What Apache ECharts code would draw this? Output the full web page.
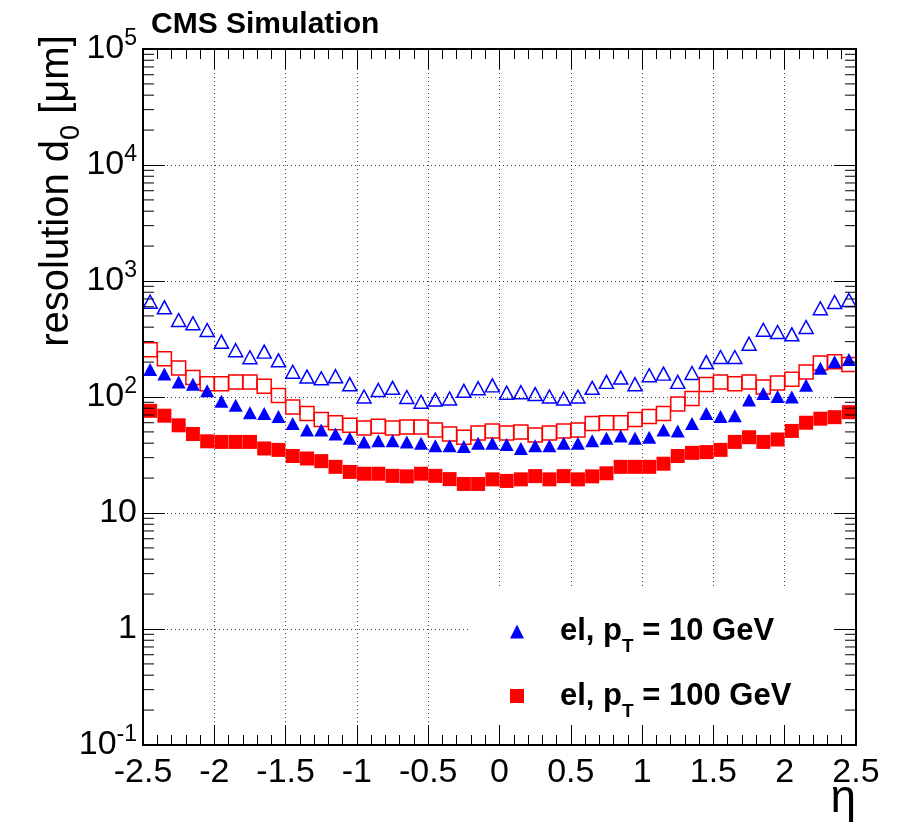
<!DOCTYPE html>
<html>
<head>
<meta charset="utf-8">
<script src="https://cdn.jsdelivr.net/npm/echarts@6/dist/echarts.min.js"></script>
<style>
html, body { margin: 0; padding: 0; background: #fff; }
#chart { width: 910px; height: 829px; }
</style>
</head>
<body>
<div id="chart"></div>
<script>
// bin centres in eta
const etaBins = [-2.45, -2.35, -2.25, -2.15, -2.05, -1.95, -1.85, -1.75, -1.65, -1.55,
                 -1.45, -1.35, -1.25, -1.15, -1.05, -0.95, -0.85, -0.75, -0.65, -0.55,
                 -0.45, -0.35, -0.25, -0.15, -0.05, 0.05, 0.15, 0.25, 0.35, 0.45,
                 0.55, 0.65, 0.75, 0.85, 0.95, 1.05, 1.15, 1.25, 1.35, 1.45,
                 1.55, 1.65, 1.75, 1.85, 1.95, 2.05, 2.15, 2.25, 2.35, 2.45];

// open blue triangles
const el10Open = [663, 593, 461, 432, 378, 300, 253, 220, 246, 207,
                  165, 150, 145, 151, 129, 101, 115, 120, 100, 91,
                  95, 97, 113, 119, 126, 109, 110, 106, 101, 97,
                  101, 120, 135, 147, 129, 154, 159, 135, 161, 200,
                  221, 221, 288, 380, 363, 347, 401, 582, 659, 686];
// open red squares
const el100Open = [256, 214, 178, 147, 130, 130, 135, 135, 124, 103,
                   82, 72, 64, 60, 57, 54, 56, 54, 55, 55,
                   52, 48, 45, 49, 51, 49, 50, 47, 49, 51,
                   52, 59, 60, 60, 64, 68, 72, 87, 97, 128,
                   135, 130, 135, 122, 132, 142, 164, 196, 201, 191];
// filled blue triangles
const el10 = [173, 158, 135, 129, 113, 92, 85, 73, 72, 68,
              59, 52, 52, 48, 44, 41, 42, 42, 41, 40,
              38, 38, 37.5, 40, 40, 39, 36, 38, 38, 40,
              40, 42, 44, 46, 44, 45, 52, 51, 59, 72,
              68, 69, 94, 107, 101, 100, 126, 177, 201, 211];
// filled red squares
const el100 = [76, 69, 57, 48, 41.5, 41, 41, 41, 36, 35,
               31, 29.5, 28, 25, 22.6, 21.8, 21.8, 20.9, 20.7, 21.8,
               20.9, 19.6, 17.8, 17.8, 19.5, 18.9, 19.5, 20.8, 19.5, 20.8,
               19.5, 20.7, 22, 25, 25, 25, 26.6, 31, 33, 33.5,
               35, 41, 45, 41, 43, 51, 60, 65, 67, 74];

const xMin = -2.5, xMax = 2.5, xStep = 0.5;
const yDecades = [0.1, 1, 10, 100, 1000, 10000, 100000];
const yMinorSteps = [2, 3, 4, 5, 6, 7, 8, 9];

const legendNames = ['el, p_T = 10 GeV', 'el, p_T = 100 GeV'];
const font = 'Liberation Sans';

function pairs(ys) {
  return etaBins.map((x, i) => [x, ys[i]]);
}

const yMinorTicks = [];
yDecades.slice(0, -1).forEach(d => yMinorSteps.forEach(m => yMinorTicks.push([xMin, d * m])));

function yLabel(v) {
  const e = Math.round(Math.log10(v));
  if (e === 0) return '1';
  if (e === 1) return '10';
  return '10{sup|' + e + '}';
}

const chart = echarts.init(document.getElementById('chart'));

const frameLine = { show: true, onZero: false, lineStyle: { color: '#000', width: 2 } };
const gridDots = { show: true, lineStyle: { color: '#000', width: 1, type: [1, 3], opacity: 0.75 } };
const tickStyle = { color: '#000', width: 1 };

const option = {
  animation: false,
  backgroundColor: '#fff',
  title: {
    text: 'CMS Simulation',
    left: 146,
    top: 5,
    textStyle: { fontFamily: font, fontSize: 30, fontWeight: 'bold', color: '#000' }
  },
  grid: { left: 143, right: 54, top: 49, bottom: 84, containLabel: false, outerBoundsMode: 'none' },
  legend: {
    data: legendNames,
    orient: 'vertical',
    left: 470,
    top: 588,
    padding: [28, 60, 14, 40],
    itemGap: 24,
    itemWidth: 14,
    itemHeight: 14,
    backgroundColor: '#fff',
    z: 5,
    selectedMode: false,
    formatter: name => '{gap|}' + name.replace('p_T', 'p{sub|T}'),
    textStyle: {
      fontFamily: font, fontSize: 31, fontWeight: 'bold', color: '#000',
      rich: {
        gap: { width: 31 },
        sub: { fontFamily: font, fontSize: 19, fontWeight: 'bold', color: '#000', lineHeight: 50, verticalAlign: 'bottom' }
      }
    }
  },
  xAxis: [
    {
      type: 'value', position: 'bottom', min: xMin, max: xMax, interval: xStep, z: 10,
      axisLine: frameLine,
      axisTick: { show: true, inside: true, length: 20, lineStyle: tickStyle },
      minorTick: { show: true, splitNumber: 5, length: 10, lineStyle: tickStyle },
      axisLabel: { show: true, margin: 11, fontFamily: font, fontSize: 34, color: '#000' },
      splitLine: { show: false }
    },
    {
      type: 'value', position: 'top', min: xMin, max: xMax, interval: xStep, z: 10,
      axisLine: frameLine,
      axisTick: { show: true, inside: true, length: 20, lineStyle: tickStyle },
      minorTick: { show: true, splitNumber: 5, length: 10, lineStyle: tickStyle },
      axisLabel: { show: false },
      splitLine: { show: false }
    },
    {
      type: 'value', position: 'bottom', min: xMin, max: xMax, interval: xStep, z: 0,
      axisLine: { show: false, onZero: false }, axisTick: { show: false }, axisLabel: { show: false },
      splitLine: gridDots
    }
  ],
  yAxis: [
    {
      type: 'log', logBase: 10, position: 'left', min: 0.1, max: 1e5, z: 10,
      axisLine: frameLine,
      axisTick: { show: true, inside: true, length: 22, lineStyle: tickStyle },
      axisLabel: {
        show: true, margin: 6, fontFamily: font, fontSize: 34, color: '#000',
        formatter: yLabel,
        rich: { sup: { fontFamily: font, fontSize: 23, color: '#000', lineHeight: 44, verticalAlign: 'top' } }
      },
      splitLine: { show: false }
    },
    {
      type: 'log', logBase: 10, position: 'right', min: 0.1, max: 1e5, z: 10,
      axisLine: frameLine,
      axisTick: { show: true, inside: true, length: 22, lineStyle: tickStyle },
      axisLabel: { show: false },
      splitLine: { show: false }
    },
    {
      type: 'log', logBase: 10, position: 'left', min: 0.1, max: 1e5, z: 0,
      axisLine: { show: false, onZero: false }, axisTick: { show: false }, axisLabel: { show: false },
      splitLine: gridDots
    }
  ],
  graphic: [
    {
      type: 'text', x: 57, y: 191, rotation: Math.PI / 2, z: 20,
      style: {
        text: 'resolution d{sub|0} [μm]',
        fontFamily: font, fontSize: 40, fill: '#000',
        align: 'center', verticalAlign: 'middle',
        rich: { sub: { fontFamily: font, fontSize: 27, fill: '#000', lineHeight: 56, verticalAlign: 'bottom' } }
      }
    },
    {
      type: 'text', right: 54, top: 776, z: 20,
      style: { text: 'η', fontFamily: font, fontSize: 46, fill: '#000' }
    }
  ],
  series: [
    {
      name: 'el10 open', type: 'scatter', xAxisIndex: 0, yAxisIndex: 0, z: 2,
      symbol: 'triangle', symbolSize: [14, 13],
      itemStyle: { color: 'rgba(0,0,0,0)', borderColor: '#0000ff', borderWidth: 1.5, opacity: 1 },
      emphasis: { disabled: true }, silent: true,
      data: pairs(el10Open)
    },
    {
      name: 'el100 open', type: 'scatter', xAxisIndex: 0, yAxisIndex: 0, z: 2,
      symbol: 'rect', symbolSize: 14,
      itemStyle: { color: 'rgba(0,0,0,0)', borderColor: '#ff0000', borderWidth: 1.5, opacity: 1 },
      emphasis: { disabled: true }, silent: true,
      data: pairs(el100Open)
    },
    {
      name: legendNames[0], type: 'scatter', xAxisIndex: 0, yAxisIndex: 0, z: 3,
      symbol: 'triangle', symbolSize: [14, 13],
      itemStyle: { color: '#0000ff', opacity: 1 },
      emphasis: { disabled: true }, silent: true,
      data: pairs(el10)
    },
    {
      name: legendNames[1], type: 'scatter', xAxisIndex: 0, yAxisIndex: 0, z: 3,
      symbol: 'rect', symbolSize: 14,
      itemStyle: { color: '#ff0000', opacity: 1 },
      emphasis: { disabled: true }, silent: true,
      data: pairs(el100)
    },
    {
      // log minor ticks on left and right frame
      name: 'minor ticks', type: 'custom', xAxisIndex: 0, yAxisIndex: 0, z: 11,
      silent: true, clip: false,
      data: yMinorTicks,
      renderItem: (params, api) => {
        const v = api.value(1);
        const l = api.coord([xMin, v]);
        const r = api.coord([xMax, v]);
        const st = { stroke: '#000', lineWidth: 1 };
        return {
          type: 'group',
          children: [
            { type: 'line', shape: { x1: l[0], y1: l[1], x2: l[0] + 11, y2: l[1] }, style: st },
            { type: 'line', shape: { x1: r[0] - 11, y1: r[1], x2: r[0], y2: r[1] }, style: st }
          ]
        };
      }
    }
  ]
};

chart.setOption(option);
</script>
</body>
</html>
